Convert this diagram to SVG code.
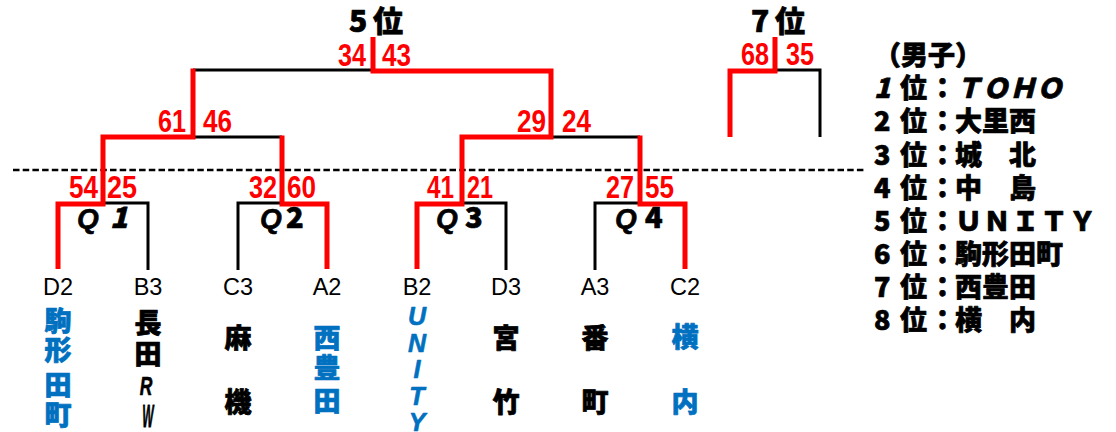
<svg xmlns="http://www.w3.org/2000/svg" width="1116" height="432" viewBox="0 0 1116 432">
<style>
.r{fill:none;stroke:#FF0000;stroke-width:5;stroke-linejoin:miter}
.k{fill:none;stroke:#000;stroke-width:3;stroke-linejoin:miter}
.dash{fill:none;stroke:#000;stroke-width:2.5;stroke-dasharray:6.5 3.2}
.sc{font-family:"Liberation Sans Narrow","Liberation Sans",Arial,sans-serif;font-weight:bold;font-size:32px;fill:#FF0000}
.pop{font-family:"Noto Sans CJK JP","Noto Sans CJK SC",sans-serif;font-weight:900;fill:#000;stroke:#000;stroke-width:0.7;stroke-linejoin:round}
.code{font-family:"Liberation Sans",Arial,sans-serif;font-size:23.5px;fill:#000;text-anchor:middle}
.tn{font-family:"Noto Sans CJK JP","Noto Sans CJK SC",sans-serif;font-weight:900;font-size:27px;text-anchor:middle;fill:#000;stroke:#000;stroke-width:0.7;stroke-linejoin:round}
.lat{font-family:"Liberation Sans",Arial,sans-serif;font-weight:bold;font-style:italic;fill:#000;stroke:#000;stroke-width:0.6;stroke-linejoin:round}
.blue{fill:#0070C0;stroke:#0070C0}
.it{font-style:italic}
</style>
<rect width="1116" height="432" fill="#fff"/>

<g id="connectors">
  <path class="dash" d="M13,170 H866"/>
  <path class="k" d="M103,203 H148 V270"/>
  <path class="k" d="M238,270 V203 H282"/>
  <path class="k" d="M462,203 H506 V270"/>
  <path class="k" d="M595,270 V203 H640"/>
  <path class="k" d="M193,137 H282"/>
  <path class="k" d="M551,137 H640"/>
  <path class="k" d="M193,70 H373"/>
  <path class="k" d="M775,70 H820 V137"/>
  <path class="r" d="M58,269 V204 H103 V137 H193 V68.5"/>
  <path class="r" d="M327,269 V204 H282 V135.5"/>
  <path class="r" d="M417,269 V204 H462 V137 H551 V71 H373 V37"/>
  <path class="r" d="M685,269 V204 H640 V135.5"/>
  <path class="r" d="M730,137 V71 H775 V37"/>
</g>

<g id="scores">
  <text class="sc" x="338" y="66" textLength="28" lengthAdjust="spacingAndGlyphs">34</text>
  <text class="sc" x="382" y="66" textLength="29" lengthAdjust="spacingAndGlyphs">43</text>
  <text class="sc" x="158" y="132" textLength="28" lengthAdjust="spacingAndGlyphs">61</text>
  <text class="sc" x="203" y="132" textLength="29" lengthAdjust="spacingAndGlyphs">46</text>
  <text class="sc" x="69" y="198" textLength="29" lengthAdjust="spacingAndGlyphs">54</text>
  <text class="sc" x="107" y="198" textLength="30" lengthAdjust="spacingAndGlyphs">25</text>
  <text class="sc" x="249" y="198" textLength="28" lengthAdjust="spacingAndGlyphs">32</text>
  <text class="sc" x="287" y="198" textLength="29" lengthAdjust="spacingAndGlyphs">60</text>
  <text class="sc" x="427" y="198" textLength="27" lengthAdjust="spacingAndGlyphs">41</text>
  <text class="sc" x="467" y="198" textLength="26" lengthAdjust="spacingAndGlyphs">21</text>
  <text class="sc" x="517" y="132" textLength="29" lengthAdjust="spacingAndGlyphs">29</text>
  <text class="sc" x="562" y="132" textLength="29" lengthAdjust="spacingAndGlyphs">24</text>
  <text class="sc" x="606" y="198" textLength="28" lengthAdjust="spacingAndGlyphs">27</text>
  <text class="sc" x="645" y="198" textLength="29" lengthAdjust="spacingAndGlyphs">55</text>
  <text class="sc" x="741" y="65" textLength="28" lengthAdjust="spacingAndGlyphs">68</text>
  <text class="sc" x="786" y="65" textLength="28" lengthAdjust="spacingAndGlyphs">35</text>
</g>

<g id="final5"><text class="pop" y="32" font-size="30"><tspan x="349">5</tspan><tspan x="373">位</tspan></text></g>
<g id="final7"><text class="pop" y="32" font-size="30"><tspan x="751">7</tspan><tspan x="775">位</tspan></text></g>

<g id="q1"><text y="228"><tspan class="lat" font-size="28" x="77">Q</tspan><tspan class="pop it" font-size="29" x="110">1</tspan></text></g>
<g id="q2"><text y="228"><tspan class="lat" font-size="28" x="260">Q</tspan><tspan class="pop" font-size="29" x="286">2</tspan></text></g>
<g id="q3"><text y="228"><tspan class="lat" font-size="28" x="436">Q</tspan><tspan class="pop" font-size="29" x="465">3</tspan></text></g>
<g id="q4"><text y="228"><tspan class="lat" font-size="28" x="615">Q</tspan><tspan class="pop" font-size="29" x="645">4</tspan></text></g>

<g id="team-D2">
  <text class="code" x="58" y="295">D2</text>
  <text class="tn blue" x="58" y="331">駒</text>
  <text class="tn blue" x="58" y="360">形</text>
  <text class="tn blue" x="58" y="395">田</text>
  <text class="tn blue" x="58" y="425">町</text>
</g>
<g id="team-B3">
  <text class="code" x="148" y="295">B3</text>
  <text class="tn" x="148" y="333">長</text>
  <text class="tn" x="148" y="364">田</text>
  <text class="lat" font-size="25" text-anchor="middle" transform="translate(146,395) scale(0.7,1)">R</text>
  <text class="lat" font-size="24" text-anchor="middle" transform="translate(148,427) scale(0.5,1.3)">W</text>
</g>
<g id="team-C3">
  <text class="code" x="238" y="295">C3</text>
  <text class="tn" x="238" y="348">麻</text>
  <text class="tn" x="238" y="412">機</text>
</g>
<g id="team-A2">
  <text class="code" x="327" y="295">A2</text>
  <text class="tn blue" x="327" y="348">西</text>
  <text class="tn blue" x="327" y="378">豊</text>
  <text class="tn blue" x="327" y="411">田</text>
</g>
<g id="team-B2">
  <text class="code" x="417" y="295">B2</text>
  <g class="lat blue" font-size="25" text-anchor="middle">
    <text x="417" y="325">U</text>
    <text x="417" y="352">N</text>
    <text x="417" y="378">I</text>
    <text x="417" y="405">T</text>
    <text x="417" y="431">Y</text>
  </g>
</g>
<g id="team-D3">
  <text class="code" x="506" y="295">D3</text>
  <text class="tn" x="506" y="348">宮</text>
  <text class="tn" x="506" y="412">竹</text>
</g>
<g id="team-A3">
  <text class="code" x="595" y="295">A3</text>
  <text class="tn" x="595" y="348">番</text>
  <text class="tn" x="595" y="412">町</text>
</g>
<g id="team-C2">
  <text class="code" x="685" y="295">C2</text>
  <text class="tn blue" x="685" y="347">横</text>
  <text class="tn blue" x="685" y="412">内</text>
</g>

<g id="ranking" class="pop" font-size="27">
  <text x="874" y="65">（男子）</text>
  <text y="98"><tspan x="874" class="it">1</tspan><tspan x="900">位</tspan><tspan x="929">：</tspan><tspan x="955" class="it">ＴＯＨＯ</tspan></text>
  <text y="131"><tspan x="874">2</tspan><tspan x="900">位</tspan><tspan x="929">：</tspan><tspan x="955">大里西</tspan></text>
  <text y="165"><tspan x="874">3</tspan><tspan x="900">位</tspan><tspan x="929">：</tspan><tspan x="955">城　北</tspan></text>
  <text y="198"><tspan x="874">4</tspan><tspan x="900">位</tspan><tspan x="929">：</tspan><tspan x="955">中　島</tspan></text>
  <text y="231"><tspan x="874">5</tspan><tspan x="900">位</tspan><tspan x="929">：</tspan><tspan x="955" letter-spacing="1.5">ＵＮＩＴＹ</tspan></text>
  <text y="264"><tspan x="874">6</tspan><tspan x="900">位</tspan><tspan x="929">：</tspan><tspan x="955">駒形田町</tspan></text>
  <text y="297"><tspan x="874">7</tspan><tspan x="900">位</tspan><tspan x="929">：</tspan><tspan x="955">西豊田</tspan></text>
  <text y="330"><tspan x="874">8</tspan><tspan x="900">位</tspan><tspan x="929">：</tspan><tspan x="955">横　内</tspan></text>
</g>
</svg>
